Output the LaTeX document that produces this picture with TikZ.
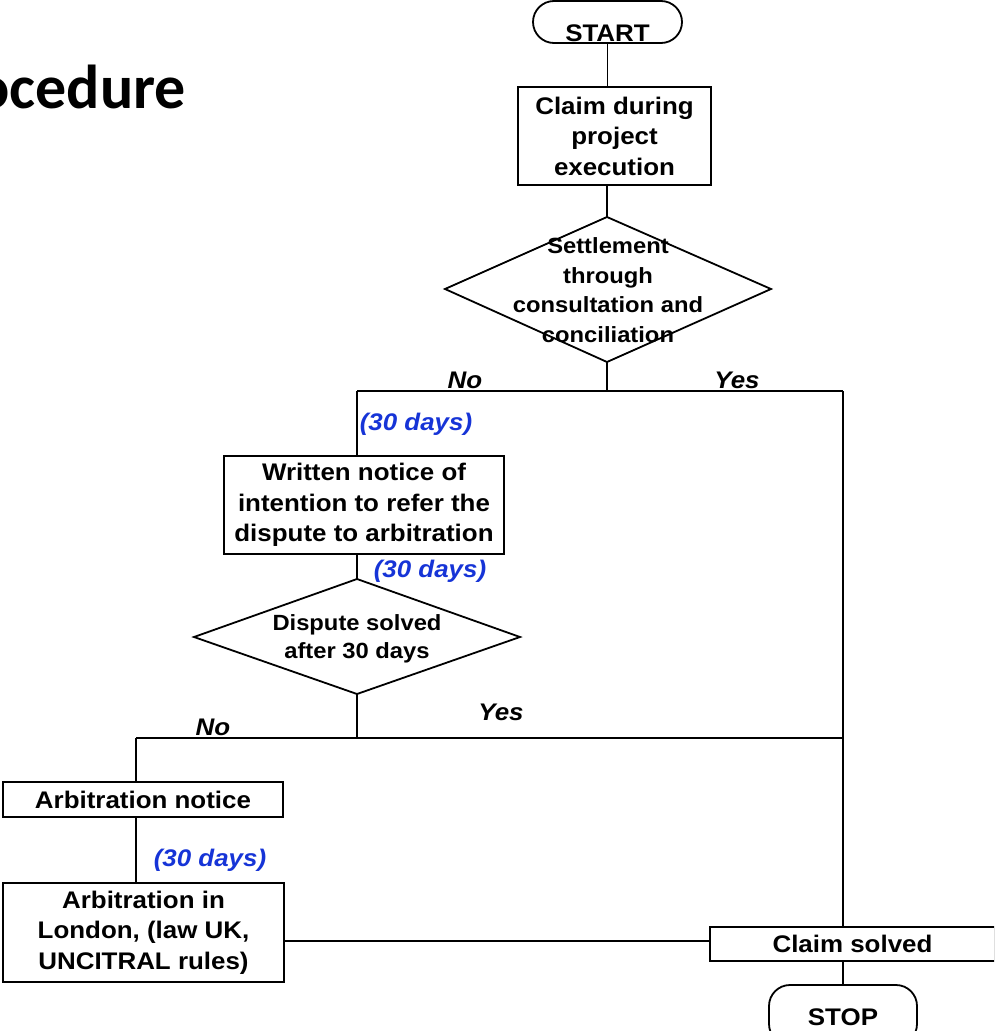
\documentclass[tikz,border=0pt]{standalone}
\usepackage{fontspec}
\setmainfont{Liberation Sans}[FakeStretch=1.08]
\newfontfamily\titlefont{Carlito}
\definecolor{dayblue}{RGB}{22,52,215}
\begin{document}
\begin{tikzpicture}[x=1pt,y=-1pt,line width=1.8pt,
  box/.style={draw,line width=1.8pt,align=center,inner sep=0pt,
    font=\fontsize{24}{30.5}\selectfont\bfseries},
  term/.style={draw,line width=1.8pt,rounded corners=21pt,inner sep=0pt,
    font=\fontsize{24}{28}\selectfont\bfseries},
  dtext/.style={align=center,inner sep=0pt},
  lbl/.style={inner sep=0pt,font=\fontsize{24}{28}\selectfont\bfseries\itshape},
  days/.style={lbl,text=dayblue}]
\fill[white] (0,0) rectangle (994,1031);
\clip (0,0) rectangle (994,1031);
% title
\node[anchor=base east,inner sep=0pt,font=\titlefont\fontsize{62}{70}\selectfont\bfseries] (title) at (187,108) {Procedure};
% terminators
\node[term,minimum width=149pt,text height=40pt,text depth=2pt] (start) at (607.5,22) {START};
\node[term,minimum width=148pt,text height=40pt,text depth=20pt] (stop) at (843,1015) {STOP};
% boxes
\node[box,minimum width=193pt,minimum height=98pt] (claim) at (614.5,136) {Claim during\\project\\execution};
\node[box,minimum width=280pt,minimum height=98pt] (notice) at (364,505) {Written notice of\\intention to refer the\\dispute to arbitration};
\node[box,minimum width=280pt,minimum height=35pt] (arbn) at (143,799.5) {Arbitration notice};
\node[box,minimum width=281pt,minimum height=99pt] (arbl) at (143.5,932.5) {Arbitration in\\London, (law UK,\\UNCITRAL rules)};
\node[box,minimum width=285pt,minimum height=34pt] (solved) at (852.5,944) {Claim solved};
% diamond 1
\coordinate (d1t) at (607,217);
\coordinate (d1l) at (445,289);
\coordinate (d1r) at (771,289);
\coordinate (d1b) at (607,362);
\draw (d1t) -- (d1r) -- (d1b) -- (d1l) -- cycle;
\node[dtext,font=\fontsize{22}{29.5}\selectfont\bfseries] (d1) at (608,290) {Settlement\\through\\consultation and\\conciliation};
% diamond 2
\coordinate (d2t) at (357,579);
\coordinate (d2l) at (194,637);
\coordinate (d2r) at (520,637);
\coordinate (d2b) at (357,694);
\draw (d2t) -- (d2r) -- (d2b) -- (d2l) -- cycle;
\node[dtext,font=\fontsize{22}{28}\selectfont\bfseries] (d2) at (357,639) {Dispute solved\\after 30 days};
% junctions
\coordinate (j1) at (607,391);
\coordinate (j1l) at (357,391);
\coordinate (j1r) at (843,391);
\coordinate (j2) at (357,738);
\coordinate (j2l) at (136,738);
\coordinate (j2r) at (843,738);
% connectors
\draw (start.south) -- (start.south |- claim.north);
\draw (claim.south -| d1t) -- (d1t);
\draw (d1b) -- (j1);
\draw (j1l) -- (j1r);
\draw (j1l) -- (j1l |- notice.north);
\draw (j1r) -- (j1r |- solved.north);
\draw (d2t |- notice.south) -- (d2t);
\draw (d2b) -- (j2);
\draw (j2l) -- (j2r);
\draw (j2l) -- (j2l |- arbn.north);
\draw (j2l |- arbn.south) -- (j2l |- arbl.north);
\draw (arbl.east |- 0,941) -- (solved.west |- 0,941);
\draw (stop.north |- solved.south) -- (stop.north);
% labels
\node[lbl,anchor=base] (no1) at (465,388) {No};
\node[lbl,anchor=base] (yes1) at (737,388) {Yes};
\node[lbl,anchor=base] (no2) at (213,735) {No};
\node[lbl,anchor=base] (yes2) at (501,720) {Yes};
\node[days,anchor=base] (days1) at (416,430) {(30 days)};
\node[days,anchor=base] (days2) at (430,577) {(30 days)};
\node[days,anchor=base] (days3) at (210,866) {(30 days)};
\end{tikzpicture}
\end{document}
